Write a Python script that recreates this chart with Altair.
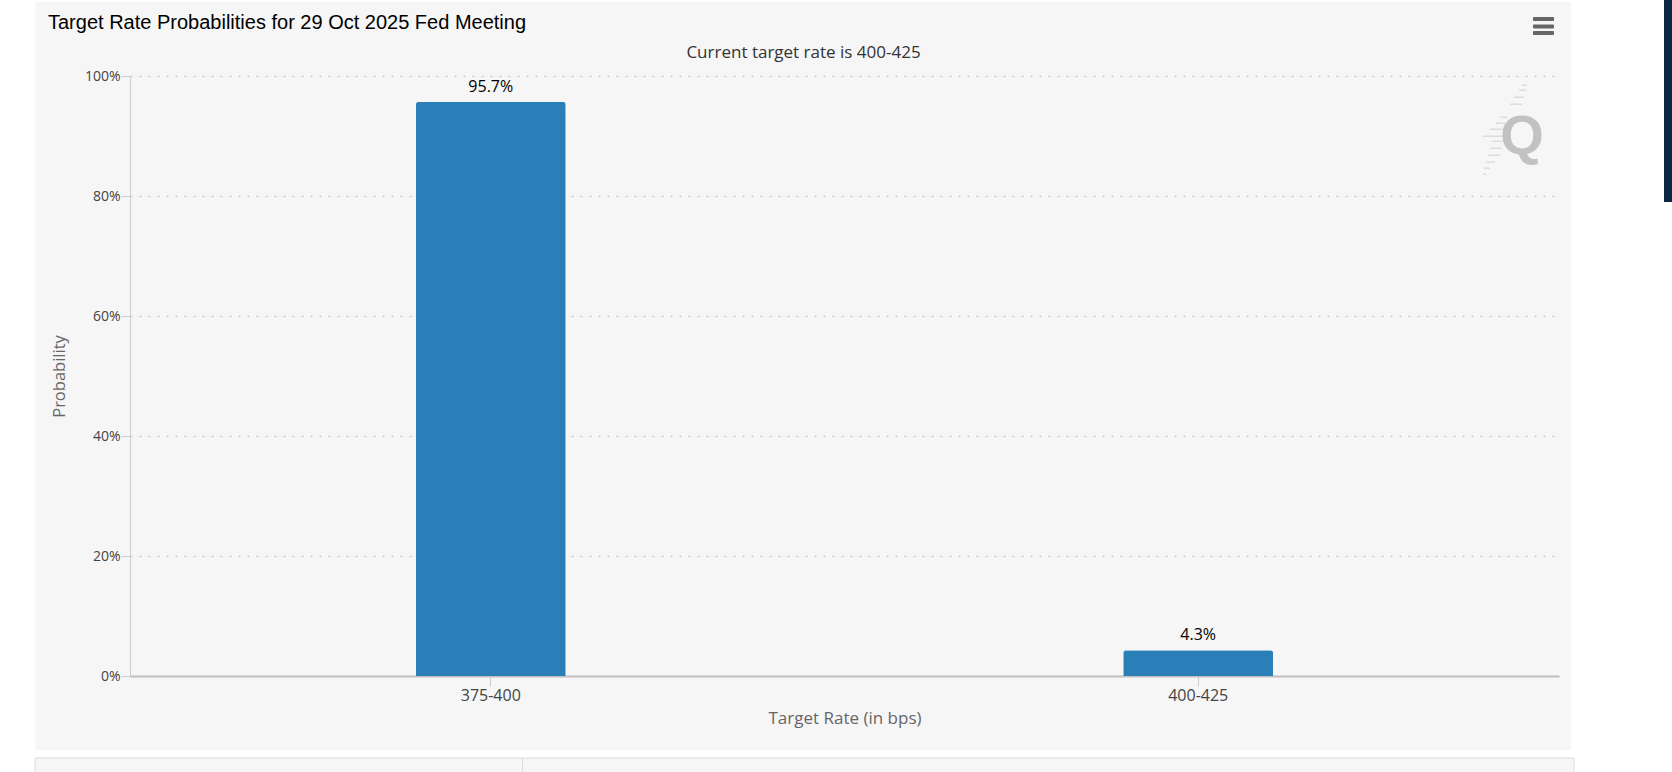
import altair as alt
import pandas as pd

# ---- data ----
rates = ["375-400", "400-425"]
probs = [0.957, 0.043]
y_ticks = [0, 0.2, 0.4, 0.6, 0.8, 1.0]

title_text = "Target Rate Probabilities for 29 Oct 2025 Fed Meeting"
subtitle_text = "Current target rate is 400-425"
x_title = "Target Rate (in bps)"
y_title = "Probability"

df = pd.DataFrame({"rate": rates, "prob": probs})
one = pd.DataFrame({"k": [0]})

FONT = "Open Sans"
BAR = "#2a7fb8"

# ---- decoration (page around the chart panel) ----
def rect(x, x2, y, y2, fill, stroke=None, radius=0, opacity=1):
    kw = dict(fill=fill, cornerRadius=radius, opacity=opacity)
    if stroke:
        kw.update(stroke=stroke, strokeWidth=1)
    return alt.Chart(one).mark_rect(**kw).encode(
        x=alt.value(x), x2=alt.value(x2), y=alt.value(y), y2=alt.value(y2))

white = "#ffffff"
deco = [
    rect(-130, -95, -76, 696, white),       # left page margin
    rect(1441, 1542, -76, 696, white),      # right page margin
    rect(-130, 1542, 674, 696, white),      # bottom page margin
    rect(-130, 1542, -76, -74, white),      # top page margin
    rect(-95, 1444, 682, 700, "#f6f6f6", "#dcdcdc"),  # lower box
    rect(392, 393, 682, 700, "#dcdcdc"),    # lower box divider
    rect(1534, 1542, -76, 126, "#0c2742"),  # dark side bar
    rect(1403, 1424, -59, -55, "#666666", radius=1),  # menu icon
    rect(1403, 1424, -51.5, -47.5, "#666666", radius=1),
    rect(1403, 1424, -45, -41, "#666666", radius=1),
]

# watermark speed lines (page coordinates: y, x_left, x_right)
speed_lines = [(85, 1522, 1527), (90, 1519, 1526), (97, 1514, 1524),
               (104, 1510, 1522), (117, 1500, 1507), (123, 1496, 1505),
               (129, 1490, 1505), (136, 1483, 1505), (141, 1492, 1505),
               (148, 1490, 1502), (155, 1488, 1500), (162, 1486, 1495),
               (168, 1484, 1490), (174, 1483, 1486)]
for yy, xa, xb in speed_lines:
    deco.append(rect(xa - 130, xb - 130, yy - 76.5, yy - 75, "#dddddd"))

logo = alt.Chart(one).mark_text(
    text="Q", font="Liberation Sans", fontWeight="bold", fontSize=56,
    color="#c2c2c2", align="center", baseline="alphabetic"
).encode(x=alt.value(1392), y=alt.value(78))

title = alt.Chart(one).mark_text(
    text=title_text, font="Liberation Sans", fontSize=20, color="#000000",
    align="left", baseline="alphabetic"
).encode(x=alt.value(-82), y=alt.value(-47))

subtitle = alt.Chart(one).mark_text(
    text=subtitle_text, font=FONT, fontSize=17, color="#333333",
    align="center", baseline="alphabetic"
).encode(x=alt.value(673.5), y=alt.value(-18.5))

# ---- the data marks ----
x_enc = alt.X(
    "rate:N", sort=None,
    scale=alt.Scale(paddingInner=0.788, paddingOuter=0.404),
    axis=alt.Axis(
        title=x_title, labelAngle=0, labelFontSize=16, labelColor="#444444",
        labelPadding=1, tickSize=10, tickColor="#cccccc",
        domainColor="#c0c0c0", domainWidth=2, grid=False,
        titleFontSize=17, titleColor="#666666", titleFontWeight="normal",
        titleBaseline="alphabetic", titleY=47,
    ),
)
y_enc = alt.Y(
    "prob:Q", scale=alt.Scale(domain=[0, 1]),
    axis=alt.Axis(
        title=y_title, values=y_ticks, format=".0%",
        labelFontSize=14, labelColor="#444444", labelPadding=1,
        tickSize=9, tickColor="#cccccc", domainColor="#cccccc",
        grid=True, gridColor="#cccccc", gridDash=[2, 7], gridWidth=1.3,
        titleFontSize=16.5, titleColor="#666666", titleFontWeight="normal",
        titleBaseline="alphabetic", titleX=-66, titleY=300,
    ),
)

bars = alt.Chart(df).mark_bar(
    color=BAR, cornerRadiusTopLeft=3, cornerRadiusTopRight=3
).encode(x=x_enc, y=y_enc)

labels = alt.Chart(df).mark_text(
    font=FONT, fontSize=16, color="#000000", baseline="alphabetic", dy=-10
).encode(x=x_enc, y=y_enc, text=alt.Text("prob:Q", format=".1%"))

chart = alt.layer(*deco, logo, title, subtitle, bars, labels).properties(
    width=1429, height=600,
    autosize=alt.AutoSizeParams(type="none"),
    padding={"left": 130, "top": 76, "right": 113, "bottom": 96},
    background="#f6f6f6",
).configure_view(stroke=None).configure_axis(
    labelFont=FONT, titleFont=FONT
)

chart.save("out.html", embed_options={"renderer": "svg", "actions": False})
